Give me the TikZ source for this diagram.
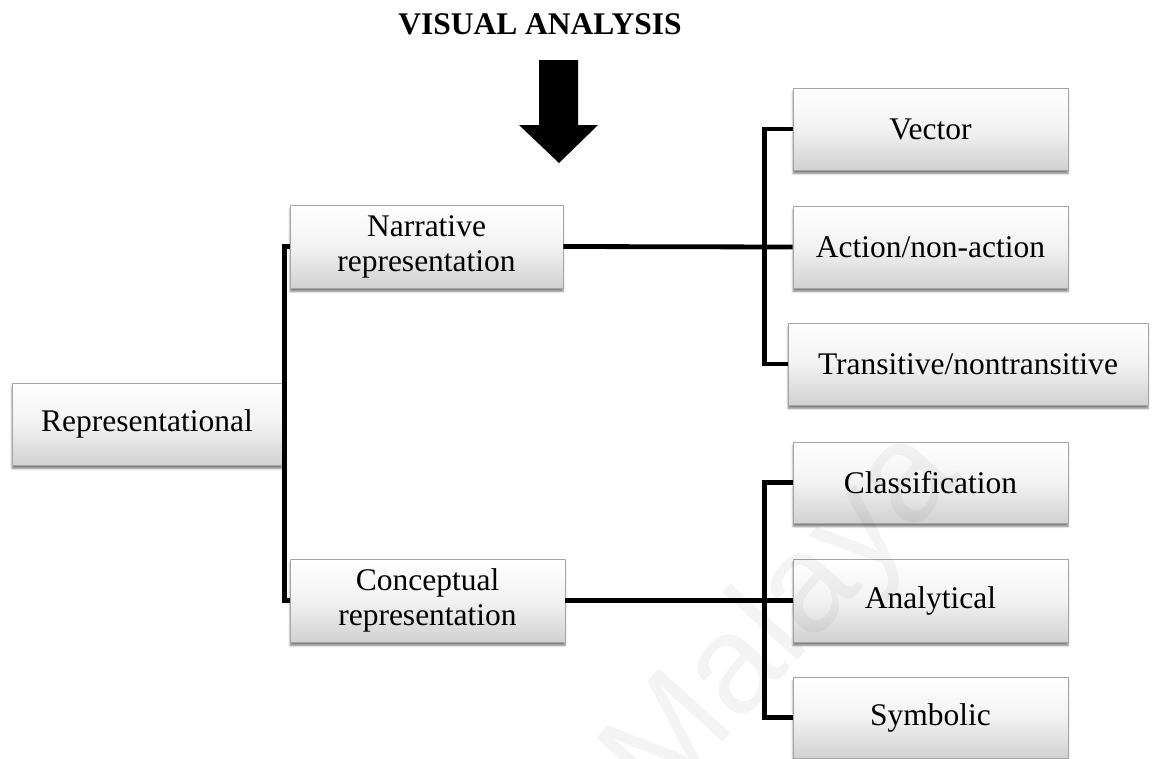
\documentclass[tikz,border=0pt]{standalone}
\usepackage{fontspec}
\setmainfont{Liberation Serif}
\newfontfamily\wmfont{Liberation Sans}
\usetikzlibrary{shadows.blur}

\tikzset{
  box/.style={
    draw=black!35, line width=0.8pt,
    top color=white, bottom color=black!18, middle color=white!95!black,
    blur shadow={shadow xshift=0pt, shadow yshift=-3.5pt, shadow blur steps=6, shadow opacity=50},
    align=center, inner sep=0pt,
    font=\fontsize{31.5}{35}\selectfont
  },
  link/.style={line width=4.8pt, black}
}

\begin{document}
\begin{tikzpicture}[x=1pt, y=-1pt]
  \useasboundingbox (0,0) rectangle (1155,758);

  % heading and the big arrow below it
  \node[font=\fontsize{31.5}{35}\selectfont\bfseries, inner sep=0pt] (title) at (540,24) {VISUAL ANALYSIS};
  \fill[black] (539,60) -- (578,60) -- (578,125) -- (598,125) -- (559,163)
               -- (519,125) -- (539,125) -- cycle;

  % boxes
  \node[box, minimum width=270pt, minimum height=82pt] (rep) at (147,424) {Representational};
  \node[box, minimum width=273pt, minimum height=83pt] (nar) at (426.5,246.5) {Narrative\\representation};
  \node[box, minimum width=275pt, minimum height=83pt] (con) at (427.5,600.5) {Conceptual\\representation};

  \node[box, minimum width=275pt, minimum height=82pt] (vec) at (930.5,129) {Vector};
  \node[box, minimum width=275pt, minimum height=82pt] (act) at (930.5,247) {Action/non-action};
  \node[box, minimum width=360pt, minimum height=82pt] (tra) at (968,364) {Transitive/nontransitive};

  \node[box, minimum width=275pt, minimum height=81pt] (cla) at (930.5,482.5) {Classification};
  \node[box, minimum width=275pt, minimum height=83pt] (ana) at (930.5,600.5) {Analytical};
  \node[box, minimum width=275pt, minimum height=81pt] (sym) at (930.5,717.5) {Symbolic};

  % connectors
  \draw[link] (nar.west) -- ++(-5,0) |- (con.west);
  \draw[link] (rep.east) -- ++(3,0);

  \draw[link] (nar.east) -- (act.west);
  \draw[link] (vec.west) -- ++(-28,0) |- (tra.west);

  \draw[link] (con.east) -- (ana.west);
  \draw[link] (cla.west) -- ++(-28,0) |- (sym.west);

  % faint watermark
  \node[font=\wmfont\fontsize{140}{140}\selectfont, text=black, text opacity=0.045,
        rotate=48, inner sep=0pt] (wm) at (785,620) {Malaya};
\end{tikzpicture}
\end{document}
